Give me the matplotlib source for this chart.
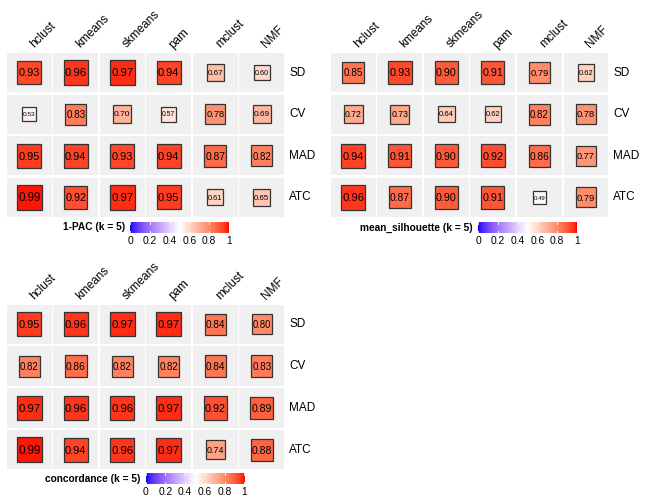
import numpy as np
import matplotlib
matplotlib.use('Agg')
import matplotlib.pyplot as plt
from matplotlib.colors import ListedColormap
from matplotlib.patches import Rectangle

plt.rcParams['font.family'] = ['Liberation Sans', 'DejaVu Sans']

methods = ['hclust', 'kmeans', 'skmeans', 'pam', 'mclust', 'NMF']
features = ['SD', 'CV', 'MAD', 'ATC']

pac_values = [[0.93, 0.96, 0.97, 0.94, 0.67, 0.60],
              [0.53, 0.83, 0.70, 0.57, 0.78, 0.69],
              [0.95, 0.94, 0.93, 0.94, 0.87, 0.82],
              [0.99, 0.92, 0.97, 0.95, 0.61, 0.65]]
silhouette_values = [[0.85, 0.93, 0.90, 0.91, 0.79, 0.62],
                     [0.72, 0.73, 0.64, 0.62, 0.82, 0.78],
                     [0.94, 0.91, 0.90, 0.92, 0.86, 0.77],
                     [0.96, 0.87, 0.90, 0.91, 0.49, 0.79]]
concordance_values = [[0.95, 0.96, 0.97, 0.97, 0.84, 0.80],
                      [0.82, 0.86, 0.82, 0.82, 0.84, 0.83],
                      [0.97, 0.96, 0.96, 0.97, 0.92, 0.89],
                      [0.99, 0.94, 0.96, 0.97, 0.74, 0.88]]
titles = ['1-PAC (k = 5)', 'mean_silhouette (k = 5)', 'concordance (k = 5)']
cbar_ticks = [0, 0.2, 0.4, 0.6, 0.8, 1]

W, H = 648, 504

# --- blue / white / red gradient interpolated in Lab, like scale_fill_gradient2
M = np.array([[0.4124, 0.3576, 0.1805],
              [0.2126, 0.7152, 0.0722],
              [0.0193, 0.1192, 0.9505]])
WHITE = np.array([0.95047, 1.0, 1.08883])
D = 6 / 29


def to_lab(rgb):
    c = np.asarray(rgb, float)
    lin = np.where(c <= 0.04045, c / 12.92, ((c + 0.055) / 1.055) ** 2.4)
    xyz = M @ lin / WHITE
    f = np.where(xyz > D ** 3, np.cbrt(xyz), xyz / (3 * D * D) + 4 / 29)
    return np.array([116 * f[1] - 16, 500 * (f[0] - f[1]), 200 * (f[1] - f[2])])


def from_lab(lab):
    fy = (lab[0] + 16) / 116
    f = np.array([fy + lab[1] / 500, fy, fy - lab[2] / 200])
    xyz = np.where(f > D, f ** 3, 3 * D * D * (f - 4 / 29)) * WHITE
    lin = np.linalg.solve(M, xyz)
    lin = np.clip(lin, 0, 1)
    c = np.where(lin <= 0.0031308, 12.92 * lin, 1.055 * lin ** (1 / 2.4) - 0.055)
    return np.clip(c, 0, 1)


lab_blue, lab_white, lab_red = to_lab([0, 0, 1]), to_lab([1, 1, 1]), to_lab([1, 0, 0])
colors = []
for v in np.linspace(0, 1, 256):
    if v < 0.5:
        lab = lab_blue + (lab_white - lab_blue) * (v / 0.5)
    else:
        lab = lab_white + (lab_red - lab_white) * ((v - 0.5) / 0.5)
    colors.append(from_lab(lab))
cmap = ListedColormap(colors)

fig = plt.figure(figsize=(W / 100, H / 100), dpi=100)


def px_axes(left, top, width, height):
    return fig.add_axes([left / W, 1 - (top + height) / H, width / W, height / H])


def draw_panel(values, box, cbar_box, title):
    ax = px_axes(*box)
    ux = box[2] / len(methods)
    uy = box[3] / len(features)
    ax.set_xlim(0, len(methods))
    ax.set_ylim(len(features), 0)
    ax.axis('off')
    for i, feat in enumerate(features):
        for j, meth in enumerate(methods):
            v = values[i][j]
            ax.add_patch(Rectangle((j + 0.018, i + 0.03), 0.964, 0.94,
                                   facecolor='#F0F0F0', edgecolor='none'))
            side = 13 + (v - 0.49) * 24
            w, h = side / ux, side / uy
            ax.add_patch(Rectangle((j + 0.5 - w / 2, i + 0.5 - h / 2), w, h,
                                   facecolor=cmap(v), edgecolor='#333333', lw=0.9))
            ax.text(j + 0.5, i + 0.52, f'{v:.2f}', ha='center', va='center',
                    fontsize=side * 0.335, color='black')
        ax.text(len(methods) + 4 / ux, i + 0.5, feat, ha='left', va='center',
                fontsize=8.5, color='black')
    for j, meth in enumerate(methods):
        ax.text(j + 0.55, -0.13, meth, rotation=45, rotation_mode='anchor',
                ha='left', va='center', fontsize=8.5, color='black', clip_on=False)

    cax = px_axes(*cbar_box)
    grad = np.linspace(0, 1, 256).reshape(1, -1)
    cax.imshow(grad, cmap=cmap, aspect='auto', extent=(0, 1, 0, 1))
    cax.set_xlim(-0.012, 1.012)
    cax.set_ylim(0, 1)
    cax.axis('off')
    for t in cbar_ticks:
        cax.plot([t, t], [0, 0.2], color='white', lw=0.6)
        cax.plot([t, t], [0.8, 1], color='white', lw=0.6)
        cax.text(t, -0.25, f'{t:g}', ha='center', va='top', fontsize=7.4,
                 transform=cax.transData, clip_on=False)
    cax.text(-0.04, 0.5, title, ha='right', va='center', fontsize=7.3,
             fontweight='bold', transform=cax.transAxes)


draw_panel(pac_values, (6, 51.7, 279, 166.5), (129, 222, 101, 11), titles[0])
draw_panel(silhouette_values, (330, 51.7, 279.3, 166.5), (477, 222, 101, 11), titles[1])
draw_panel(concordance_values, (6, 303.3, 279, 167.4), (144.5, 473, 101, 11), titles[2])

fig.savefig('out.png', dpi=100)
